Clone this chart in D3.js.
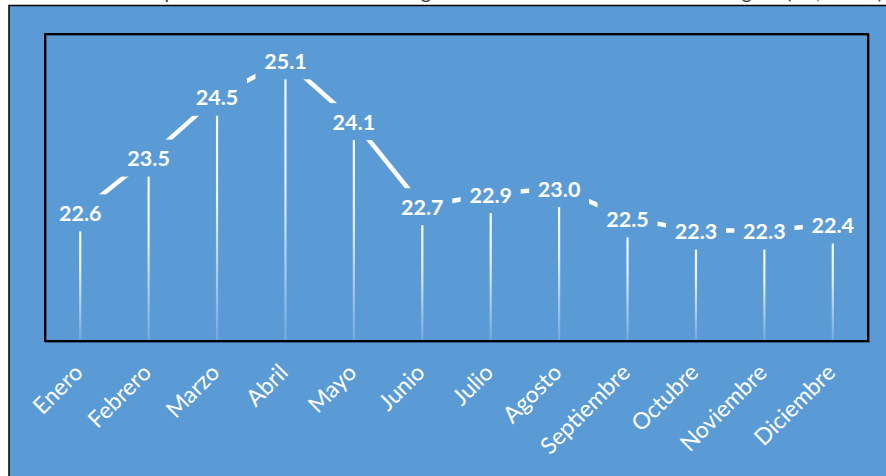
<!DOCTYPE html>
<html>
<head>
<meta charset="utf-8">
<script src="https://cdn.jsdelivr.net/npm/d3@7"></script>
<style>
  html, body { margin: 0; padding: 0; background: #ffffff; overflow: hidden; }
  svg { display: block; overflow: hidden; }
</style>
</head>
<body>
<svg id="chart" width="886" height="476"></svg>
<script>
// Monthly mean temperature (°C)
const months = ["Enero", "Febrero", "Marzo", "Abril", "Mayo", "Junio",
                "Julio", "Agosto", "Septiembre", "Octubre", "Noviembre", "Diciembre"];
const temps = [22.6, 23.5, 24.5, 25.1, 24.1, 22.7, 22.9, 23.0, 22.5, 22.3, 22.3, 22.4];
const yDomain = [20.5, 25.5];
const titleText = "Gráfico 2: Temperatura media mensual registrada en la estación meteorológica (°C, 2016)";

const W = 886, H = 476;
const blue = "#5B9BD5";
const plot = { left: 45, right: 868, top: 34, bottom: 341 };

const svg = d3.select("#chart");

// chart frame: white strip holding the title, blue chart area below
svg.append("rect").attr("x", 0).attr("y", 0).attr("width", W).attr("height", H).attr("fill", "#ffffff");
svg.append("text")
  .attr("x", 26).attr("y", -1)
  .attr("textLength", 857).attr("lengthAdjust", "spacing")
  .attr("font-family", "Lato, 'Open Sans', sans-serif")
  .attr("font-size", 20).attr("fill", "#404040")
  .text(titleText);
svg.append("rect").attr("x", 9).attr("y", 5.5).attr("width", W).attr("height", H)
  .attr("fill", blue).attr("stroke", "#000").attr("stroke-width", 1.5);

const x = d3.scaleBand().domain(months).range([plot.left + 1, plot.right - 1]);
const cx = m => x(m) + x.bandwidth() / 2;
const y = d3.scaleLinear().domain(yDomain).range([plot.bottom - 1, plot.top + 2]);

// fading gradient for the drop lines
const defs = svg.append("defs");
const grad = defs.append("linearGradient").attr("id", "dropFade")
  .attr("x1", 0).attr("y1", 0).attr("x2", 0).attr("y2", 1);
grad.append("stop").attr("offset", "0%").attr("stop-color", "#fff").attr("stop-opacity", 1);
grad.append("stop").attr("offset", "45%").attr("stop-color", "#fff").attr("stop-opacity", 0.85);
grad.append("stop").attr("offset", "100%").attr("stop-color", "#fff").attr("stop-opacity", 0.15);

const data = months.map((m, i) => ({ m, v: temps[i] }));

// plot area border
svg.append("rect")
  .attr("x", plot.left + 1).attr("y", plot.top + 1)
  .attr("width", plot.right - plot.left).attr("height", plot.bottom - plot.top)
  .attr("fill", "none").attr("stroke", "#1f3550").attr("stroke-width", 2).attr("opacity", 0.6);
svg.append("rect")
  .attr("x", plot.left).attr("y", plot.top)
  .attr("width", plot.right - plot.left).attr("height", plot.bottom - plot.top)
  .attr("fill", "none").attr("stroke", "#000").attr("stroke-width", 2);

// drop lines from each point to the axis
svg.append("g").selectAll("rect").data(data).join("rect")
  .attr("x", d => cx(d.m) - 1.1)
  .attr("y", d => y(d.v))
  .attr("width", 2.2)
  .attr("height", d => plot.bottom - 1 - y(d.v))
  .attr("fill", "url(#dropFade)");

// temperature line
svg.append("path").datum(data)
  .attr("fill", "none").attr("stroke", "#fff").attr("stroke-width", 4.5)
  .attr("d", d3.line().x(d => cx(d.m)).y(d => y(d.v)));

// data labels on blue boxes
const lab = svg.append("g").selectAll("g").data(data).join("g")
  .attr("transform", d => `translate(${cx(d.m)},${y(d.v)})`);
lab.append("rect")
  .attr("x", -30).attr("y", -18).attr("width", 60).attr("height", 37)
  .attr("fill", blue);
lab.append("text")
  .attr("text-anchor", "middle").attr("y", 8.5)
  .attr("font-family", "Lato, 'Open Sans', sans-serif")
  .attr("font-weight", "bold").attr("font-size", 21.5).attr("fill", "#fff")
  .text(d => d.v.toFixed(1));

// category axis with rotated month names
const xAxis = svg.append("g")
  .attr("transform", `translate(0,${plot.bottom})`)
  .call(d3.axisBottom(x).tickSize(0).tickPadding(0));
xAxis.select(".domain").remove();
xAxis.selectAll("text")
  .attr("font-family", "Lato, 'Open Sans', sans-serif")
  .attr("font-size", 23).attr("fill", "#fff")
  .attr("text-anchor", "end")
  .attr("dy", 0).attr("y", 0)
  .attr("transform", "translate(4,33) rotate(-45)");
</script>
</body>
</html>
